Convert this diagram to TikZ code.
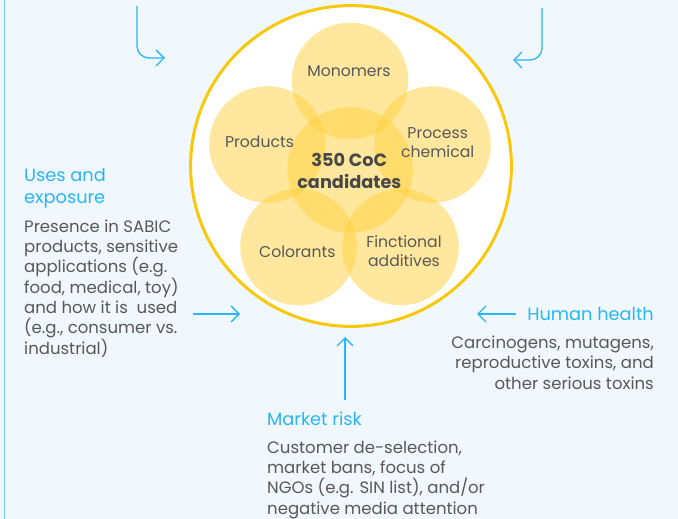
\documentclass[tikz,border=0pt]{standalone}
\usepackage{fontspec}
\setmainfont{Poppins}
\usetikzlibrary{arrows.meta}
\definecolor{bg}{RGB}{240,248,254}
\definecolor{skyb}{RGB}{41,182,246}
\definecolor{edgeb}{RGB}{120,205,245}
\definecolor{txt}{RGB}{88,88,88}
\definecolor{dark}{RGB}{72,72,72}
\definecolor{ring}{RGB}{250,200,10}
\definecolor{petal}{RGB}{255,210,60}
\tikzset{
  petalc/.style={circle, inner sep=0, minimum size=117, fill=petal, fill opacity=0.5},
  hub/.style={circle, inner sep=0, minimum size=126, fill=petal, fill opacity=0.5},
  lbl/.style={inner sep=0, text=txt, font=\fontsize{15.7}{19.4}\selectfont, align=center},
  head/.style={inner sep=0, text=skyb, font=\fontsize{17.8}{21.6}\selectfont},
  body/.style={inner sep=0, text=txt, font=\fontsize{16.6}{20.4}\selectfont},
  arr/.style={draw=skyb, line width=1.3, -{Straight Barb[length=8,width=16]}},
}
\begin{document}
\begin{tikzpicture}[x=1bp,y=-1bp]
\fill[bg] (0,0) rectangle (678,519);
\useasboundingbox (0,0) rectangle (678,519);
\draw[edgeb, line width=1.5] (4.5,0) -- (4.5,519);

\node[circle, inner sep=0, minimum size=322, draw=ring, line width=3, fill=white] (ring) at (351,166) {};

\node[petalc] (pmono) at (350,81) {};
\node[petalc] (pprod) at (267.5,144.5) {};
\node[petalc] (pproc) at (432.5,144.5) {};
\node[petalc] (pcol) at (298.5,247) {};
\node[petalc] (pfun) at (400.5,247) {};
\node[hub] (phub) at (350,170) {};

\node[lbl, anchor=base] (lmono) at (349,76.7) {Monomers};
\node[lbl, anchor=base] (lprod) at (259.5,147.3) {Products};
\node[lbl, anchor=base] (lproc) at (437.7,157.7) {Process\\chemical};
\node[lbl, anchor=base] (lcol) at (297.3,257.7) {Colorants};
\node[lbl, anchor=base] (lfun) at (404,266.7) {Finctional\\additives};
\node[lbl, anchor=base, text=dark, font=\fontsize{17.8}{21.6}\bfseries] (lhub) at (349.3,188.3) {350 CoC\\candidates};

% Uses and exposure
\node[head, anchor=base west, align=left] (huse) at (24,203.3) {Uses and\\exposure};
\node[body, anchor=base west, align=left] (buse) at (24,354) {Presence in SABIC\\products, sensitive\\applications (e.g.\\food, medical, toy)\\and how it is~ used\\(e.g., consumer vs.\\industrial)};

% Human health
\node[head, anchor=base east] (hhum) at (654,320) {Human health};
\node[body, anchor=base east, align=right] (bhum) at (654,389) {Carcinogens, mutagens,\\reproductive toxins, and\\other serious toxins};

% Market risk
\node[head, anchor=base west] (hmkt) at (267,425) {Market risk};
\node[body, anchor=base west, align=left] (bmkt) at (267,514.3) {Customer de-selection,\\market bans, focus of\\NGOs (e.g. SIN list), and/or\\negative media attention};

% arrows
\coordinate (a1s) at (193,314);
\coordinate (a1e) at (240,314);
\draw[arr] (a1s) -- (a1e);
\coordinate (a2s) at (516,314);
\coordinate (a2e) at (477,314);
\draw[arr] (a2s) -- (a2e);
\coordinate (a3s) at (345,400);
\coordinate (a3e) at (345,337);
\draw[arr] (a3s) -- (a3e);
\coordinate (a4s) at (137,6);
\coordinate (a4c) at (137,58);
\coordinate (a4e) at (165,58);
\draw[arr, rounded corners=12] (a4s) -- (a4c) -- (a4e);
\coordinate (a5s) at (542,8);
\coordinate (a5c) at (542,60);
\coordinate (a5e) at (513,60);
\draw[arr, rounded corners=12] (a5s) -- (a5c) -- (a5e);
\end{tikzpicture}
\end{document}
